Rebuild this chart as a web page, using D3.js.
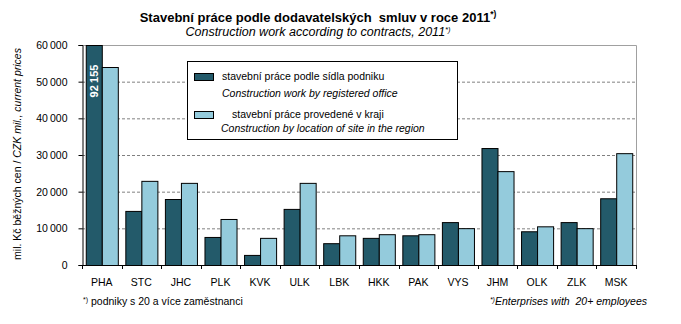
<!DOCTYPE html>
<html><head><meta charset="utf-8">
<script src="https://cdn.jsdelivr.net/npm/d3@7"></script>
<style>body{margin:0;background:#fff}svg{display:block;font-family:"Liberation Sans",Arial,sans-serif}text{white-space:pre}</style>
</head><body><svg id="c" width="681" height="324"></svg>
<script>
const categories = ["PHA","STC","JHC","PLK","KVK","ULK","LBK","HKK","PAK","VYS","JHM","OLK","ZLK","MSK"];
const seriesOffice = [92155,14750,18000,7650,2750,15300,5950,7400,8100,11700,31900,9200,11700,18200];
const seriesRegion = [54000,22950,22400,12550,7400,22400,8100,8400,8400,10050,25600,10550,10050,30500];
const yTicks = [0,10000,20000,30000,40000,50000,60000];
const seriesNames = ["stavební práce podle sídla podniku","stavební práce provedené v kraji"];
const seriesNamesEn = ["Construction work by registered office","Construction by location of site in the region"];
const colors = ["#235a6a","#94cbdc"];

const svg = d3.select("#c");
const L=82, R=636, T=45, B=265;
const x = d3.scaleBand().domain(categories).range([L,R]).paddingInner(0.19).paddingOuter(0.095);
const xs = d3.scaleBand().domain([0,1]).range([0,x.bandwidth()]);
const y = d3.scaleLinear().domain([0,60000]).range([B,T]).clamp(true);
const fmt = v => d3.format(",")(v).replace(/,/g,"\u2009");

// grid
svg.append("g").selectAll("line").data(yTicks.filter(v=>v>0&&v<60000)).join("line")
  .attr("x1",L).attr("x2",R).attr("y1",d=>y(d)+0.5).attr("y2",d=>y(d)+0.5)
  .attr("stroke","#808080").attr("stroke-dasharray","3,2");
// top and right border
svg.append("path").attr("d",`M${L},${T+0.5}H${R+0.5}V${B}`).attr("fill","none").attr("stroke","#a0a0a0");

// bars
const data = categories.map((c,i)=>({c,v:[seriesOffice[i],seriesRegion[i]]}));
const g = svg.append("g").selectAll("g").data(data).join("g").attr("transform",d=>`translate(${x(d.c)},0)`);
g.selectAll("rect").data(d=>d.v.map((v,k)=>({v,k}))).join("rect")
  .attr("x",d=>xs(d.k)+0.5).attr("width",xs.bandwidth())
  .attr("y",d=>y(d.v)+0.5).attr("height",d=>B-y(d.v))
  .attr("fill",d=>colors[d.k]).attr("stroke","#000").attr("stroke-width",1);

// PHA label
svg.append("text").attr("transform",`translate(${x("PHA")+xs(0)+xs.bandwidth()/2+4.5},${81}) rotate(-90)`)
  .attr("text-anchor","middle").attr("fill","#fff").attr("font-weight","bold").attr("font-size","11px")
  .text(fmt(seriesOffice[0]));

// axes
const ya = d3.axisLeft(y).tickValues(yTicks).tickSize(4).tickPadding(11).tickFormat(v=>fmt(v));
const yg = svg.append("g").attr("transform",`translate(${L+0.5},0)`).call(ya);
yg.select(".domain").attr("stroke","#000");
yg.selectAll("text").attr("font-size","10.5px").attr("font-family","Liberation Sans, Arial").attr("fill","#000");
const xa = d3.axisBottom(x).tickSize(0).tickPadding(13);
const xg = svg.append("g").attr("transform",`translate(0,${B+0.5})`).call(xa);
xg.select(".domain").attr("d",`M${L},0H${R+1}`).attr("stroke","#000");
xg.selectAll("text").attr("font-size","10.5px").attr("font-family","Liberation Sans, Arial").attr("fill","#000");
// x tick marks between categories
const bounds = d3.range(categories.length+1).map(i=>L+i*(R-L)/categories.length);
svg.append("g").selectAll("line").data(bounds).join("line")
  .attr("x1",d=>Math.round(d)+0.5).attr("x2",d=>Math.round(d)+0.5).attr("y1",B).attr("y2",B+4).attr("stroke","#000");

// y title
const yt = svg.append("text").attr("transform","translate(21,154) rotate(-90)").attr("text-anchor","middle").attr("font-size","10.5px");
yt.append("tspan").text("mil. Kč běžných cen / ");
yt.append("tspan").attr("font-style","italic").text("CZK mil., current prices");

// title
const t1 = svg.append("text").attr("x",318).attr("y",22).attr("text-anchor","middle").attr("font-weight","bold").attr("font-size","13px");
t1.append("tspan").text("Stavební práce podle dodavatelských  smluv v roce 2011");
t1.append("tspan").attr("font-size","8.5px").attr("dy",-5).text("*)");
const t2 = svg.append("text").attr("x",318).attr("y",36).attr("text-anchor","middle").attr("font-style","italic").attr("font-size","12.5px");
t2.append("tspan").text("Construction work according to contracts, 2011");
t2.append("tspan").attr("font-size","7.5px").attr("dy",-4).text("*)");

// legend
const lg = svg.append("g");
lg.append("rect").attr("x",187.5).attr("y",61.5).attr("width",270).attr("height",78).attr("fill","#fff").attr("stroke","#000");
[0,1].forEach(k=>{
  const yy = k===0?73:111;
  lg.append("rect").attr("x",194.5).attr("y",yy+0.5).attr("width",19).attr("height",7).attr("fill",colors[k]).attr("stroke","#000");
});
lg.append("text").attr("x",222).attr("y",80).attr("font-size","10.5px").text(seriesNames[0]);
lg.append("text").attr("x",222).attr("y",97).attr("font-size","10.5px").attr("font-style","italic").text(seriesNamesEn[0]);
lg.append("text").attr("x",232).attr("y",118).attr("font-size","10.5px").text(seriesNames[1]);
lg.append("text").attr("x",221).attr("y",132).attr("font-size","10.5px").attr("font-style","italic").text(seriesNamesEn[1]);

// footnotes
const f1 = svg.append("text").attr("x",83).attr("y",305).attr("font-size","10.5px");
f1.append("tspan").attr("font-size","7px").attr("dy",-3).text("*)");
f1.append("tspan").attr("dy",3).text(" podniky s 20 a více zaměstnanci");
const f2 = svg.append("text").attr("x",647).attr("y",305).attr("text-anchor","end").attr("font-size","10.5px").attr("font-style","italic");
f2.append("tspan").attr("font-size","7px").attr("dy",-3).text("*)");
f2.append("tspan").attr("dy",3).text("Enterprises with  20+ employees");
</script></body></html>
